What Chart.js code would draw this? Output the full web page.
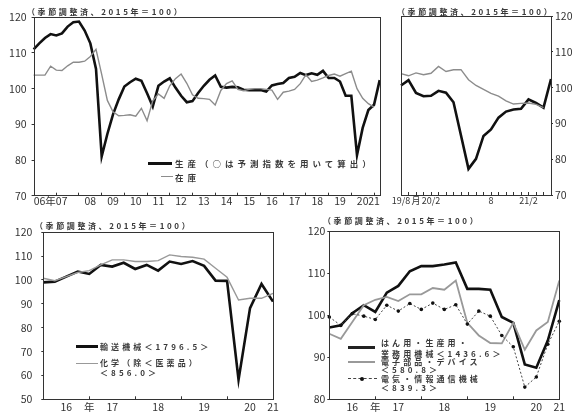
<!DOCTYPE html>
<html>
<head>
<meta charset="utf-8">
<script src="https://cdn.jsdelivr.net/npm/chart.js@4.4.1/dist/chart.umd.min.js"></script>
<style>
  body { margin: 0; width: 581px; height: 414px; background: #fff; position: relative; overflow: hidden;
         font-family: "Noto Sans CJK JP", sans-serif; color: #333; }
  canvas { position: absolute; }
  .t { position: absolute; font-size: 8px; line-height: 8px; letter-spacing: 3.1px; white-space: nowrap;
       font-weight: bold; color: #3a3a3a; }
  .ttl { letter-spacing: 2.6px; }
  .ln { position: absolute; height: 0; }
  .dot { position: absolute; width: 4px; height: 4px; border-radius: 2px; background: #111; }
</style>
</head>
<body>
<canvas id="c1"></canvas>
<canvas id="c2"></canvas>
<canvas id="c3"></canvas>
<canvas id="c4"></canvas>

<!-- titles -->
<div class="t ttl" style="left:27px;top:7.5px">（季節調整済、2015年＝100）</div>
<div class="t ttl" style="left:397px;top:7.7px">（季節調整済、2015年＝100）</div>
<div class="t ttl" style="left:35px;top:222px">（季節調整済、2015年＝100）</div>
<div class="t ttl" style="left:323px;top:217px">（季節調整済、2015年＝100）</div>

<!-- legend, top left -->
<div class="ln" style="left:148px;top:161.5px;width:24px;border-top:3px solid #111"></div>
<div class="t" style="left:175px;top:158.7px;font-size:8.5px;line-height:8.5px;letter-spacing:4px">生産（○は予測指数を用いて算出）</div>
<div class="ln" style="left:161px;top:176.3px;width:12px;border-top:1.5px solid #8c8c8c"></div>
<div class="t" style="left:175px;top:172.7px;font-size:8.5px;line-height:8.5px;letter-spacing:4px">在庫</div>

<!-- legend, bottom left -->
<div class="ln" style="left:76px;top:345.2px;width:22px;border-top:3px solid #111"></div>
<div class="t" style="left:100px;top:342.7px">輸送機械＜1796.5＞</div>
<div class="ln" style="left:76px;top:362.5px;width:22px;border-top:1.5px solid #999"></div>
<div class="t" style="left:100px;top:359.3px">化学（除＜医薬品）</div>
<div class="t" style="left:100px;top:368.7px">＜856.0＞</div>

<!-- legend, bottom right -->
<div class="ln" style="left:348px;top:346.2px;width:27px;border-top:3px solid #222"></div>
<div class="t" style="left:381px;top:338.5px">はん用・生産用・</div>
<div class="t" style="left:381px;top:350.3px">業務用機械＜1436.6＞</div>
<div class="ln" style="left:348px;top:360.7px;width:27px;border-top:2px solid #999"></div>
<div class="t" style="left:381px;top:357.7px">電子部品・デバイス</div>
<div class="t" style="left:381px;top:366px">＜580.8＞</div>
<div class="ln" style="left:348px;top:378px;width:29px;border-top:1px dashed #444"></div>
<div class="dot" style="left:360px;top:376.5px"></div>
<div class="t" style="left:381px;top:375px">電気・情報通信機械</div>
<div class="t" style="left:381px;top:383.7px">＜839.3＞</div>

<script>
// Categories
function quarterLabels(startYear, n) {
    let out = [];
    for (let i = 0; i < n; i++) out.push((startYear + Math.floor(i / 4)) + 'Q' + (i % 4 + 1));
    return out;
}
const p1Quarters = quarterLabels(2006, 62);
const p2Months = ['2019/8', '2019/9', '2019/10', '2019/11', '2019/12', '2020/1', '2020/2', '2020/3', '2020/4',
    '2020/5', '2020/6', '2020/7', '2020/8', '2020/9', '2020/10', '2020/11', '2020/12', '2021/1', '2021/2',
    '2021/3', '2021/4'];
const p34Quarters = quarterLabels(2016, 21);

// Top left: production / inventory (quarterly)
const p1Production = [111, 112.7, 114.2, 115.3, 114.9, 115.5, 117.4, 118.6, 118.8, 116.3, 112.7, 105.5,
    81, 87.3, 92.8, 97, 100.6, 101.8, 102.8, 102.2, 98.7, 95, 100.8, 102, 102.9, 100.3, 98, 96.2,
    96.5, 98.8, 100.8, 102.5, 103.7, 100.5, 100.3, 100.5, 100.4, 99.7, 99.6, 99.6, 99.6, 99.2, 100.9, 101.3,
    101.6, 103, 103.3, 104.4, 103.8, 104.3, 103.9, 105, 103, 103, 102, 98, 98, 81.4, 89, 94, 95.5, 102.4];
const p1Inventory = [103.8, 103.8, 103.8, 106.3, 105.2, 105.1, 106.4, 107.4, 107.4, 107.7, 109, 111,
    104, 96.7, 93.5, 92.4, 92.5, 92.7, 92.3, 94.5, 91, 96.6, 98.5, 97.3, 100.8, 102.8, 104.1, 101.5,
    98.3, 97.3, 97.2, 97, 95.4, 99.5, 101.4, 102.2, 99.8, 99.4, 99.8, 100, 100, 99.8, 99.6, 97,
    99, 99.3, 99.8, 101.4, 103.9, 102, 102.4, 103, 103.7, 104.1, 103.5, 104.2, 104.9, 100, 97.3, 95.8, 94.8, null];
const p1TickText = ['06年07', '08', '09', '10', '11', '12', '13', '14', '15', '16', '17', '18', '19', '20', '21'];
const p1TickAt = ['2006Q4', '2008Q3', '2009Q3', '2010Q3', '2011Q3', '2012Q3', '2013Q3',
    '2014Q3', '2015Q3', '2016Q3', '2017Q3', '2018Q3', '2019Q3', '2020Q3', '2021Q1'];

// Top right: monthly
const p2Production = [100.6, 102.1, 98.5, 97.6, 97.7, 99.1, 98.6, 95.9, 86.6, 77.3, 80.1, 86.5, 88.3,
    91.6, 93.3, 93.9, 94.1, 96.7, 95.7, 94.4, 102.4];
const p2Inventory = [103.9, 103.3, 104.1, 103.6, 104, 105.9, 104.5, 105, 105, 102.2, 100.6, 99.5, 98.4,
    97.6, 96.3, 95.4, 95.6, 95.7, 95.3, 94.4, null];
const p2TickText = ['19/8', '月', '20/2', '8', '21/2'];
const p2TickAt = ['2019/8', '2019/10', '2019/12', '2020/8', '2021/1'];

// Bottom left
const p3Transport = [99, 99.3, 101.4, 103.5, 102.5, 106.3, 105.6, 107.2, 104.6, 106.3, 103.9, 107.7,
    106.7, 107.9, 105.9, 99.7, 99.6, 58.2, 88.2, 98.3, 90.9];
const p3Chemicals = [100.7, 99.7, 101.4, 103.1, 103.9, 106.3, 108.4, 108.4, 107.7, 107.7, 108.1, 110.5,
    109.8, 109.5, 108.7, 104.9, 101.1, 91.6, 92.3, 92.3, 94.4];

// Bottom right
const p4Machinery = [97.1, 97.6, 100.5, 102.4, 100.8, 105.4, 107, 110.5, 111.7, 111.7, 112.1, 112.6,
    106.3, 106.3, 106.1, 99.6, 98.2, 88.3, 87.5, 94, 103.6];
const p4Electronic = [95.6, 94.4, 98.4, 102.4, 103.7, 104.4, 103.4, 105, 105, 106.5, 106.1, 108.3,
    98.2, 95.2, 93.4, 93.3, 98.2, 91.8, 96.4, 98.4, 108.3];
const p4Electrical = [99.6, 97.6, 100.4, 99.8, 99, 102.4, 101, 102.8, 101.4, 102.9, 101.4, 102.5,
    97.9, 101, 99.8, 95.2, 92.5, 82.9, 85.3, 93.1, 98.6];
const p34TickText = ['16', '年', '17', '18', '19', '20', '21'];
const p34TickAt = ['2016Q3', '2017Q1', '2017Q3', '2018Q3', '2019Q3', '2020Q3', '2021Q1'];

Chart.defaults.font.family = '"Noto Sans CJK JP", sans-serif';
Chart.defaults.color = '#333';

// box round the plot area
const framePlugin = {
    id: 'frame',
    afterDraw(chart) {
        let a = chart.chartArea, c = chart.ctx;
        c.save();
        c.strokeStyle = '#333';
        c.lineWidth = 1;
        c.strokeRect(Math.round(a.left) + 0.5, Math.round(a.top) + 0.5,
            Math.round(a.right - a.left), Math.round(a.bottom - a.top));
        c.restore();
    }
};

// box: canvas on page, area: plot area on page
function drawPanel(id, box, area, labels, datasets, yOpt, xOpt) {
    let canvas = document.getElementById(id);
    canvas.style.left = box.x + 'px';
    canvas.style.top = box.y + 'px';
    canvas.width = box.w;
    canvas.height = box.h;
    let right = yOpt.position === 'right';
    let yWidth = right ? box.x + box.w - area.r : area.l - box.x;
    let xHeight = box.y + box.h - area.b;

    return new Chart(canvas, {
        type: 'line',
        data: { labels: labels, datasets: datasets },
        plugins: [framePlugin],
        options: {
            responsive: false,
            animation: false,
            layout: { padding: {
                top: area.t - box.y,
                left: right ? area.l - box.x : 0,
                right: right ? 0 : box.x + box.w - area.r,
                bottom: 0 } },
            plugins: { legend: { display: false }, tooltip: { enabled: false } },
            elements: { point: { radius: 0 }, line: { tension: 0 } },
            scales: {
                x: {
                    type: 'category',
                    offset: false,
                    border: { display: false },
                    grid: {
                        drawOnChartArea: false,
                        tickLength: -3,
                        tickColor: ctx => (ctx.index > 0 && ctx.index < labels.length - 1 && ctx.index % xOpt.markEvery === 0) ? '#333' : 'rgba(0,0,0,0)'
                    },
                    ticks: {
                        autoSkip: false, maxRotation: 0, padding: xOpt.pad,
                        font: { size: xOpt.size },
                        callback: (v, i) => {
                            let k = xOpt.at.indexOf(labels[i]);
                            return k < 0 ? '' : xOpt.text[k];
                        }
                    },
                    afterFit: s => { s.height = xHeight; s.paddingLeft = 0; s.paddingRight = 0; }
                },
                y: {
                    position: yOpt.position,
                    min: yOpt.min, max: yOpt.max,
                    border: { display: false },
                    grid: { drawOnChartArea: false, tickLength: 2, tickColor: '#333' },
                    ticks: { stepSize: 10, padding: yOpt.pad, font: { size: 10.5 } },
                    afterFit: s => { s.width = yWidth; s.paddingTop = 0; s.paddingBottom = 0; }
                }
            }
        }
    });
}

function thick(data) { return { data: data, borderColor: '#111', borderWidth: 2.6 }; }
function thin(data, color, w) { return { data: data, borderColor: color, borderWidth: w }; }

drawPanel('c1', { x: 0, y: 0, w: 385, h: 212 }, { l: 33.6, t: 17.3, r: 379.7, b: 195.7 },
    p1Quarters, [thin(p1Inventory, '#8c8c8c', 1.4), thick(p1Production)],
    { position: 'left', min: 70, max: 120, pad: 5 },
    { text: p1TickText, at: p1TickAt, markEvery: 4, size: 10.5, pad: 2 });

drawPanel('c2', { x: 385, y: 0, w: 196, h: 212 }, { l: 401, t: 16, r: 551, b: 195 },
    p2Months, [thin(p2Inventory, '#8c8c8c', 1.4), thick(p2Production)],
    { position: 'right', min: 70, max: 120, pad: 2 },
    { text: p2TickText, at: p2TickAt, markEvery: 1, size: 9, pad: 3 });

drawPanel('c3', { x: 0, y: 212, w: 290, h: 202 }, { l: 43.3, t: 232.2, r: 273, b: 399.3 },
    p34Quarters, [thin(p3Chemicals, '#999', 1.4), thick(p3Transport)],
    { position: 'left', min: 50, max: 120, pad: 9 },
    { text: p34TickText, at: p34TickAt, markEvery: 4, size: 10.5, pad: 4 });

drawPanel('c4', { x: 290, y: 212, w: 291, h: 202 }, { l: 329.3, t: 231.3, r: 559.3, b: 399.3 },
    p34Quarters, [
        { data: p4Electrical, borderColor: '#444', borderWidth: 1, borderDash: [2, 2],
          pointRadius: 1.8, pointBackgroundColor: '#111', pointBorderWidth: 0 },
        thin(p4Electronic, '#999', 1.8),
        thick(p4Machinery)
    ],
    { position: 'left', min: 80, max: 120, pad: 2 },
    { text: p34TickText, at: p34TickAt, markEvery: 4, size: 10.5, pad: 4 });
</script>
</body>
</html>
